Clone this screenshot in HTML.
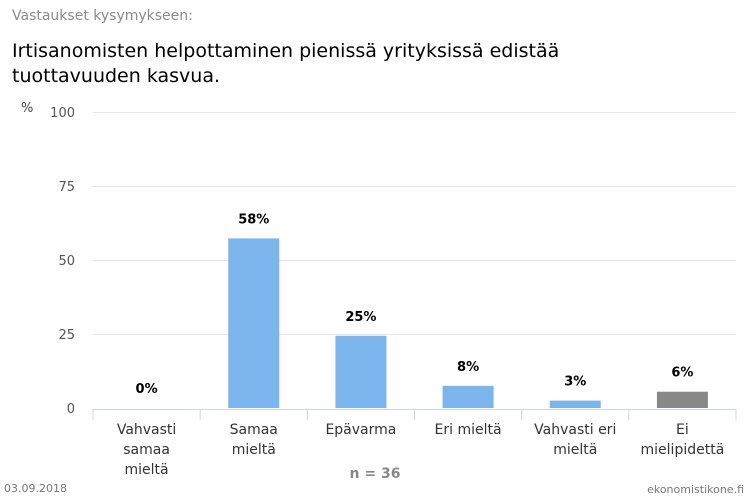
<!DOCTYPE html>
<html><head><meta charset="utf-8"><style>
body{margin:0;background:#fff;font-family:"DejaVu Sans","Liberation Sans",sans-serif;}
#wrap{position:relative;width:750px;height:500px;overflow:hidden}
.t{position:absolute;white-space:nowrap}
</style></head><body>
<div id="wrap">
<div class="t" style="left:12px;top:8px;font-size:14px;color:#8a8a8a">Vastaukset kysymykseen:</div>
<div class="t" style="left:12px;top:39px;font-size:19px;color:#000;line-height:25px">Irtisanomisten helpottaminen pienissä yrityksissä edistää<br>tuottavuuden kasvua.</div>
<svg id="svg" width="750" height="500" style="position:absolute;left:0;top:0"></svg>
</div>
<script>
const categories=["Vahvasti|samaa|mieltä","Samaa|mieltä","Epävarma","Eri mieltä","Vahvasti eri|mieltä","Ei|mielipidettä"];
const values=[0,57.3,24.4,7.5,2.5,5.5];
const valueLabels=["0%","58%","25%","8%","3%","6%"];
const barColors=["#7cb5ec","#7cb5ec","#7cb5ec","#7cb5ec","#7cb5ec","#888888"];
const yTicks=[0,25,50,75,100];
const NS="http://www.w3.org/2000/svg";
const svg=document.getElementById('svg');
const x0=93,x1=736,yBase=408,yTop=112;
const y=v=>yBase-(v/100)*(yBase-yTop);
const bw=(x1-x0)/categories.length;
function mk(tag,attrs,txt){const e=document.createElementNS(NS,tag);for(const k in attrs)e.setAttribute(k,attrs[k]);if(txt!==undefined)e.textContent=txt;svg.appendChild(e);return e;}
let e=mk('text',{x:21,y:112,'font-size':13,fill:'#444','font-family':'DejaVu Sans,sans-serif'},'%');


yTicks.forEach(t=>{
  if(t>0){const g=mk('line',{x1:x0,x2:x1,y1:y(t)+0.5,y2:y(t)+0.5,stroke:'#e6e6e6','stroke-width':1});
  
  }
  const l=mk('text',{x:75,y:y(t)+5,'text-anchor':'end','font-size':13,fill:'#555','font-family':'DejaVu Sans,sans-serif'},String(t));
  
  
});
const ax=mk('line',{x1:x0,x2:x1,y1:yBase+1.5,y2:yBase+1.5,stroke:'#ccd6eb','stroke-width':1});


for(let i=0;i<=categories.length;i++){
  const tk=mk('line',{x1:x0+i*bw,x2:x0+i*bw,y1:yBase+1,y2:yBase+12,stroke:'#ccd6eb','stroke-width':1});
  
  
}
categories.forEach((c,i)=>{
  const cx=x0+bw*(i+0.5);
  const v=values[i];
  if(v>0){const r=mk('rect',{x:cx-25.5,y:y(v),width:51,height:yBase-y(v),fill:barColors[i]});
  
  }
  const vl=mk('text',{x:cx,y:y(v)-15,'text-anchor':'middle','font-size':13,'font-weight':'bold',fill:'#000','font-family':'DejaVu Sans,sans-serif'},valueLabels[i]);
  
  
  c.split('|').forEach((ln,j)=>{
    const cl=mk('text',{x:cx,y:434+j*20,'text-anchor':'middle','font-size':14,fill:'#333','font-family':'DejaVu Sans,sans-serif'},ln);
    
    
  });
});
let n=mk('text',{x:375,y:478,'text-anchor':'middle','font-size':14,'font-weight':'bold',fill:'#888','font-family':'DejaVu Sans,sans-serif'},'n = 36');


let d=mk('text',{x:4,y:492,'font-size':11,fill:'#777','font-family':'DejaVu Sans,sans-serif'},'03.09.2018');


let s=mk('text',{x:744,y:493,'text-anchor':'end','font-size':11,fill:'#777','font-family':'DejaVu Sans,sans-serif'},'ekonomistikone.fi');


</script>
</body></html>
